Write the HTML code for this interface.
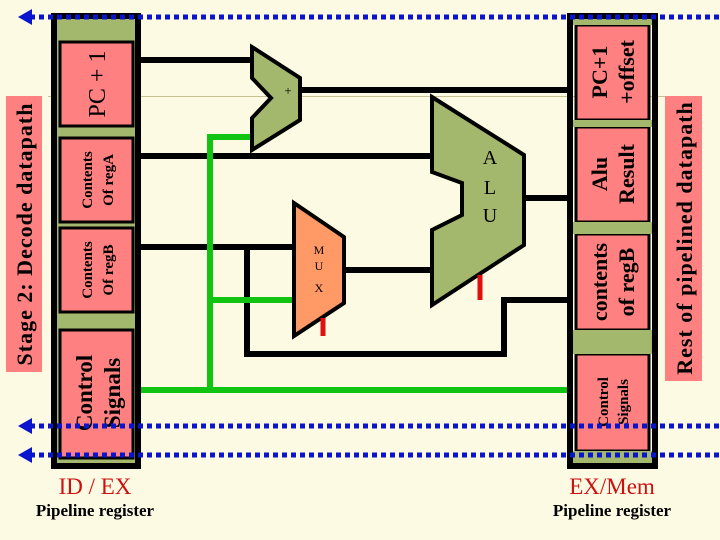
<!DOCTYPE html>
<html><head><meta charset="utf-8"><style>
html,body{margin:0;padding:0;background:#fdfae3;}
svg{display:block;}
text{font-family:"Liberation Serif",serif;}
</style></head><body>
<svg width="720" height="540" viewBox="0 0 720 540" xmlns="http://www.w3.org/2000/svg">
<rect width="720" height="540" fill="#fdfae3"/>
<line x1="48" y1="96.5" x2="665" y2="96.5" stroke="#c8c090" stroke-width="1"/>
<!-- side labels -->
<rect x="6" y="96" width="36" height="276" fill="#ff8080"/>
<text transform="translate(32,234) rotate(-90)" text-anchor="middle" font-size="22" font-weight="bold" letter-spacing="1">Stage 2: Decode datapath</text>
<rect x="665" y="96" width="37" height="285" fill="#ff8080"/>
<text transform="translate(692,238) rotate(-90)" text-anchor="middle" font-size="22" font-weight="bold" letter-spacing="1">Rest of pipelined datapath</text>
<!-- left register -->
<rect x="51" y="13" width="90" height="456" fill="#000"/>
<rect x="57" y="19" width="78" height="444" fill="#a3b86c"/>
<g fill="#ff8080" stroke="#000" stroke-width="3">
<rect x="60" y="42" width="73" height="84"/>
<rect x="60" y="138" width="73" height="84"/>
<rect x="60" y="228" width="73" height="84"/>
<rect x="60" y="330" width="73" height="128"/>
<rect x="576" y="25" width="73" height="95"/>
<rect x="576" y="127" width="73" height="95"/>
<rect x="576" y="234" width="73" height="96"/>
<rect x="576" y="354" width="73" height="97"/>
</g>
<!-- right register frame -->
<path d="M567,13 H658 V469 H567 Z M573,19 V463 H652 V19 Z" fill="#000" fill-rule="evenodd"/>
<rect x="573" y="19" width="79" height="6" fill="#a3b86c"/>
<rect x="573" y="120" width="79" height="7" fill="#a3b86c"/>
<rect x="573" y="222" width="79" height="12" fill="#a3b86c"/>
<rect x="573" y="330" width="79" height="24" fill="#a3b86c"/>
<rect x="573" y="451" width="79" height="12" fill="#a3b86c"/>
<!-- box texts -->
<g text-anchor="middle">
<text transform="translate(105,84) rotate(-90)" font-size="24">PC + 1</text>
<text transform="translate(92,180) rotate(-90)" font-size="15" font-weight="bold">Contents</text>
<text transform="translate(113,180) rotate(-90)" font-size="15" font-weight="bold">Of regA</text>
<text transform="translate(92,270) rotate(-90)" font-size="15" font-weight="bold">Contents</text>
<text transform="translate(113,270) rotate(-90)" font-size="15" font-weight="bold">Of regB</text>
<text transform="translate(92,393) rotate(-90)" font-size="23" font-weight="bold">Control</text>
<text transform="translate(120,393) rotate(-90)" font-size="23" font-weight="bold">Signals</text>
<text transform="translate(607,72) rotate(-90)" font-size="22" font-weight="bold">PC+1</text>
<text transform="translate(634,72) rotate(-90)" font-size="22" font-weight="bold">+offset</text>
<text transform="translate(607,174) rotate(-90)" font-size="22" font-weight="bold">Alu</text>
<text transform="translate(634,174) rotate(-90)" font-size="22" font-weight="bold">Result</text>
<text transform="translate(607,282) rotate(-90)" font-size="22" font-weight="bold">contents</text>
<text transform="translate(634,282) rotate(-90)" font-size="22" font-weight="bold">of regB</text>
<text transform="translate(608,402) rotate(-90)" font-size="15" font-weight="bold">Control</text>
<text transform="translate(628,402) rotate(-90)" font-size="15" font-weight="bold">Signals</text>
</g>
<!-- wires -->
<g stroke="#000" stroke-width="6" fill="none">
<line x1="141" y1="60" x2="254" y2="60"/>
<line x1="298" y1="90" x2="567" y2="90"/>
<line x1="141" y1="156" x2="434" y2="156"/>
<line x1="524" y1="198" x2="567" y2="198"/>
<line x1="141" y1="247" x2="296" y2="247"/>
<line x1="342" y1="270" x2="434" y2="270"/>
<polyline points="247,247 247,354 504,354 504,300 567,300"/>
</g>
<g stroke="#11c411" stroke-width="6" fill="none">
<polyline points="254,137 210,137 210,390"/>
<line x1="141" y1="390" x2="567" y2="390"/>
<line x1="210" y1="300" x2="294" y2="300"/>
</g>
<!-- adder -->
<polygon points="252,47 300,78 300,120 252,150 252,118 271,98 252,78" fill="#a3b86c" stroke="#000" stroke-width="4"/>
<text x="288" y="95" font-size="13" text-anchor="middle">+</text>
<!-- ALU -->
<polygon points="432,97 524,155 524,245 432,305 432,230 462,215 462,183 432,172" fill="#a3b86c" stroke="#000" stroke-width="4"/>
<g font-size="20" text-anchor="middle"><text x="490" y="164">A</text><text x="490" y="194">L</text><text x="490" y="222">U</text></g>
<line x1="480" y1="275" x2="480" y2="300" stroke="#e01010" stroke-width="5"/>
<!-- MUX -->
<polygon points="294,203 344,237 344,303 294,336" fill="#ff9966" stroke="#000" stroke-width="4"/>
<g font-size="12" text-anchor="middle"><text x="319" y="254">M</text><text x="319" y="270">U</text><text x="319" y="292">X</text></g>
<line x1="323" y1="318" x2="323" y2="336" stroke="#e01010" stroke-width="5"/>
<!-- dotted lines -->
<g stroke="#0a14cc" stroke-width="5" stroke-dasharray="5,4" fill="none">
<line x1="30" y1="17" x2="720" y2="17"/>
<line x1="30" y1="426" x2="720" y2="426"/>
<line x1="30" y1="455" x2="720" y2="455"/>
</g>
<g fill="#0a14cc">
<polygon points="18,17 32,9 32,25"/>
<polygon points="18,426 32,418 32,434"/>
<polygon points="18,455 32,447 32,463"/>
</g>
<!-- captions -->
<text x="95" y="494" text-anchor="middle" font-size="23" fill="#cc1111">ID / EX</text>
<text x="95" y="516" text-anchor="middle" font-size="17" font-weight="bold">Pipeline register</text>
<text x="612" y="494" text-anchor="middle" font-size="23" fill="#cc1111">EX/Mem</text>
<text x="612" y="516" text-anchor="middle" font-size="17" font-weight="bold">Pipeline register</text>
</svg>
</body></html>
